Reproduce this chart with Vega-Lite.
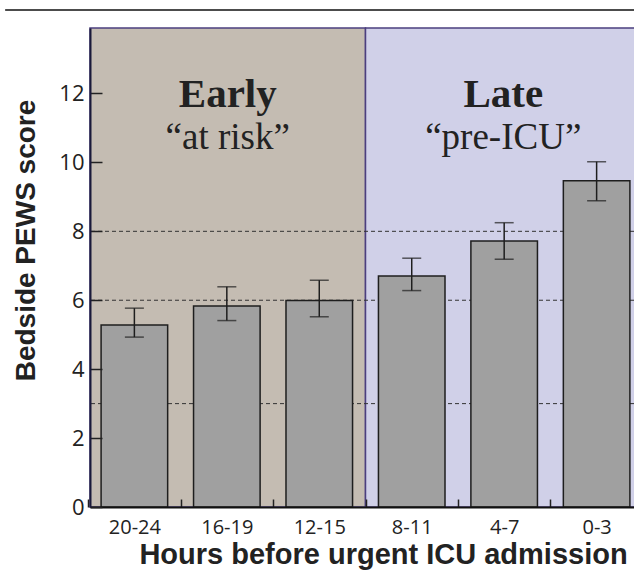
{
  "$schema": "https://vega.github.io/schema/vega-lite/v6.json",
  "width": 544,
  "height": 479,
  "autosize": {"type": "none"},
  "padding": {"left": 90, "top": 28, "right": 0, "bottom": 66},
  "background": "white",
  "config": {"view": {"stroke": null}},
  "layer": [
    {
      "data": {"values": [
        {"phase": "Early", "title": "Early", "sub": "“at risk”"},
        {"phase": "Late", "title": "Late", "sub": "“pre-ICU”"}
      ]},
      "encoding": {
        "x": {"field": "phase", "type": "nominal", "scale": {"type": "band", "domain": ["Early", "Late"], "range": [0, 551], "paddingInner": 0, "paddingOuter": 0}, "axis": null}
      },
      "layer": [
        {
          "mark": {"type": "rect", "stroke": "#4b3f7f", "strokeWidth": 1.5},
          "encoding": {
            "y": {
              "datum": 13.9, "type": "quantitative",
              "scale": {"domain": [0, 13.9], "nice": false},
              "axis": {
                "title": "Bedside PEWS score",
                "values": [0, 2, 4, 6, 8, 10, 12],
                "tickSize": -12,
                "labelPadding": 18,
                "labelFont": "Open Sans",
                "labelFontSize": 22,
                "labelColor": "#222222",
                "domainColor": "#1a1a3a",
                "domainWidth": 2,
                "tickColor": "#222222",
                "tickWidth": 1.5,
                "grid": false,
                "titleFont": "Liberation Sans",
                "titleFontWeight": "bold",
                "titleFontSize": 28,
                "titleColor": "#222222",
                "titleX": -56,
                "titleY": 212,
                "titleBaseline": "alphabetic",
                "titleAngle": 270,
                "zindex": 1
              }
            },
            "y2": {"datum": 0},
            "fill": {"field": "phase", "type": "nominal", "scale": {"domain": ["Early", "Late"], "range": ["#c4bcb2", "#d0d0e8"]}, "legend": null}
          }
        },
        {
          "mark": {"type": "text", "font": "Liberation Serif", "fontWeight": "bold", "fontSize": 41, "baseline": "alphabetic", "color": "#222222"},
          "encoding": {
            "text": {"field": "title"},
            "y": {"datum": 11.6, "type": "quantitative"}
          }
        },
        {
          "mark": {"type": "text", "font": "Liberation Serif", "fontSize": 37, "baseline": "alphabetic", "color": "#222222"},
          "encoding": {
            "text": {"field": "sub"},
            "y": {"datum": 10.38, "type": "quantitative"}
          }
        }
      ]
    },
    {
      "data": {"values": [{"v": 3}, {"v": 6}, {"v": 8}]},
      "mark": {"type": "rule", "strokeDash": [4, 3], "color": "#333333", "strokeWidth": 1},
      "encoding": {
        "y": {"field": "v", "type": "quantitative"}
      }
    },
    {
      "data": {"values": [
        {"h": "20-24", "m": 5.28, "lo": 4.93, "hi": 5.77},
        {"h": "16-19", "m": 5.83, "lo": 5.41, "hi": 6.39},
        {"h": "12-15", "m": 5.99, "lo": 5.52, "hi": 6.58},
        {"h": "8-11", "m": 6.70, "lo": 6.28, "hi": 7.22},
        {"h": "4-7", "m": 7.72, "lo": 7.19, "hi": 8.25},
        {"h": "0-3", "m": 9.47, "lo": 8.89, "hi": 10.02}
      ]},
      "encoding": {
        "x": {
          "field": "h", "type": "nominal", "sort": null,
          "scale": {"type": "band", "range": [0, 551], "paddingInner": 0.28, "paddingOuter": 0.12},
          "axis": {
            "title": "Hours before urgent ICU admission",
            "bandPosition": 0,
            "tickOffset": -12.94,
            "labelOffset": 12.94,
            "ticks": true,
            "tickSize": -8,
            "labelPadding": 18,
            "labelFont": "Open Sans",
            "labelFontSize": 20,
            "labelColor": "#222222",
            "labelAngle": 0,
            "domainColor": "#111111",
            "domainWidth": 2,
            "tickColor": "#222222",
            "tickWidth": 1.5,
            "titleFont": "Liberation Sans",
            "titleFontWeight": "bold",
            "titleFontSize": 29,
            "titleColor": "#222222",
            "titleX": 293,
            "titleY": 56,
            "titleBaseline": "alphabetic",
            "zindex": 1
          }
        }
      },
      "layer": [
        {
          "mark": {"type": "bar", "fill": "#a0a0a0", "stroke": "#1e1e1e", "strokeWidth": 1.5},
          "encoding": {
            "y": {"field": "m", "type": "quantitative"}
          }
        },
        {
          "mark": {"type": "rule", "color": "#1e1e1e", "strokeWidth": 1.5},
          "encoding": {
            "y": {"field": "lo", "type": "quantitative"},
            "y2": {"field": "hi"}
          }
        },
        {
          "mark": {"type": "tick", "orient": "horizontal", "size": 19, "thickness": 1.5, "color": "#1e1e1e"},
          "encoding": {"y": {"field": "lo", "type": "quantitative"}}
        },
        {
          "mark": {"type": "tick", "orient": "horizontal", "size": 19, "thickness": 1.5, "color": "#1e1e1e"},
          "encoding": {"y": {"field": "hi", "type": "quantitative"}}
        }
      ]
    },
    {
      "data": {"values": [{}]},
      "mark": {"type": "rule", "color": "#111111", "strokeWidth": 1.5, "clip": false},
      "encoding": {
        "x": {"datum": -0.154, "type": "quantitative", "scale": {"domain": [0, 1], "range": [0, 551]}, "axis": null},
        "x2": {"datum": 1},
        "y": {"datum": 14.42, "type": "quantitative"}
      }
    }
  ],
  "resolve": {"scale": {"x": "independent"}}
}
